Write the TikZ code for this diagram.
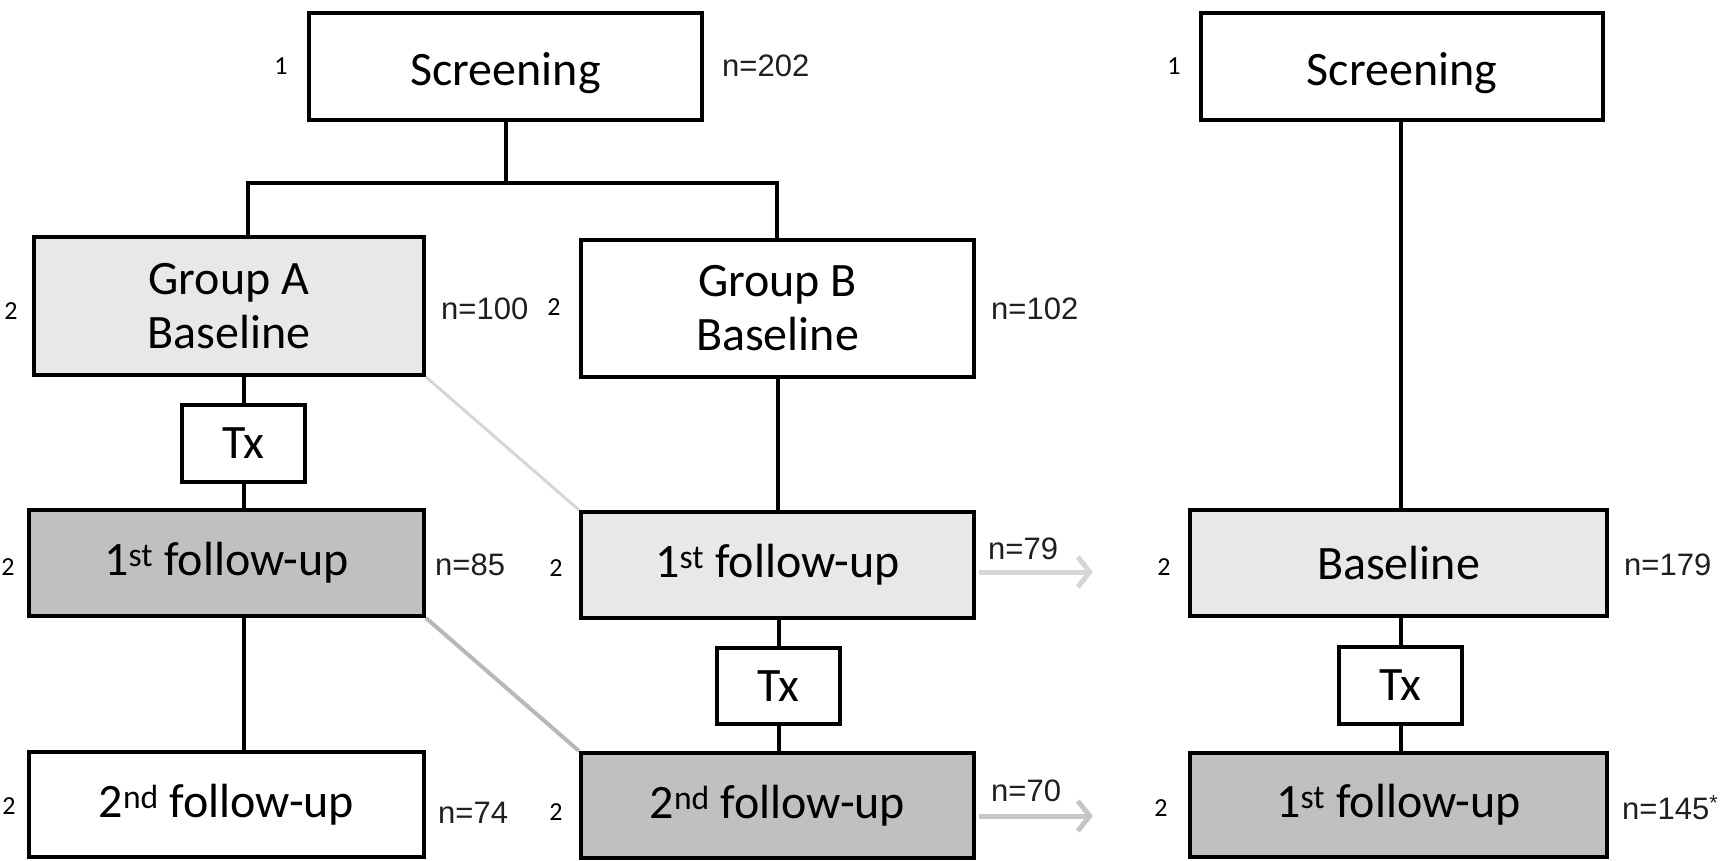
\documentclass[tikz,border=0pt]{standalone}
\usepackage{fontspec}
\setmainfont{Carlito}
\newfontfamily\arialf{Liberation Sans}
\usetikzlibrary{arrows.meta}
\definecolor{lightfill}{HTML}{E8E8E8}
\definecolor{darkfill}{HTML}{C0C0C0}
\definecolor{diagl}{HTML}{D6D6D6}
\definecolor{diagm}{HTML}{B8B8B8}
\definecolor{arrl}{HTML}{D6D6D6}
\definecolor{arrm}{HTML}{C6C6C6}
\newcommand\boxnode[7]{\node[box, fill=#6, minimum width={#4-#2}, minimum height={#5-#3}] (#1) at ({(#2+#4)/2},{(#3+#5)/2}) {#7};}
\begin{document}
\begin{tikzpicture}[x=1pt,y=-1pt,
  box/.style={draw=black, line width=4pt, inner sep=0pt, font=\fontsize{48}{54}\selectfont, align=center},
  lvl/.style={font=\fontsize{26}{28}\selectfont, inner sep=0pt},
  cnt/.style={font=\arialf\fontsize{31}{34}\selectfont, inner sep=0pt, anchor=west, text=black!88},
  conn/.style={line width=4pt, line join=miter},
  garrow/.style={line width=5pt, shorten <=3pt, -{Straight Barb[length=12pt,width=30pt]}}]
\useasboundingbox (0,0) rectangle (1728,860);

% boxes
\boxnode{scrA}{309}{13}{702}{120}{white}{\raisebox{-7pt}[\height][\depth]{Screening}}
\boxnode{scrC}{1201}{13}{1603}{120}{white}{\raisebox{-7pt}[\height][\depth]{Screening}}
\boxnode{grpA}{34}{237}{424}{375}{lightfill}{Group A\\Baseline}
\boxnode{grpB}{581}{240}{974}{377}{white}{Group B\\Baseline}
\boxnode{txA}{182}{405}{305}{482}{white}{Tx}
\boxnode{fuAa}{29}{510}{424}{616}{darkfill}{1\textsuperscript{st} follow-up}
\boxnode{fuBa}{581}{512}{974}{618}{lightfill}{1\textsuperscript{st} follow-up}
\boxnode{baseC}{1190}{510}{1607}{616}{lightfill}{Baseline}
\boxnode{txB}{717}{648}{840}{724}{white}{Tx}
\boxnode{txC}{1339}{647}{1462}{724}{white}{Tx}
\boxnode{fuAb}{29}{752}{424}{857}{white}{2\textsuperscript{nd} follow-up}
\boxnode{fuBb}{581}{753}{974}{858}{darkfill}{2\textsuperscript{nd} follow-up}
\boxnode{fuCa}{1190}{753}{1607}{857}{darkfill}{1\textsuperscript{st} follow-up}

% bracket
\coordinate (brL) at (248,183);
\coordinate (brR) at (777,183);
\draw[conn] (scrA.south) -- (scrA.south |- brL);
\draw[conn] (grpA.north -| brL) -- (brL) -- (brR) -- (grpB.north -| brR);

% column A
\draw[conn] (grpA.south -| txA.north) -- (txA.north);
\draw[conn] (txA.south) -- (fuAa.north -| txA.south);
\draw[conn] (fuAa.south -| txA.south) -- (fuAb.north -| txA.south);

% column B
\draw[conn] (grpB.south) -- (fuBa.north -| grpB.south);
\draw[conn] (fuBa.south -| txB.north) -- (txB.north);
\draw[conn] (txB.south) -- (fuBb.north -| txB.south);

% column C
\draw[conn] (scrC.south -| txC.north) -- (baseC.north -| txC.north);
\draw[conn] (baseC.south -| txC.north) -- (txC.north);
\draw[conn] (txC.south) -- (fuCa.north -| txC.south);

% grey diagonals
\draw[line width=3pt, diagl] (grpA.south east) -- (fuBa.north west);
\draw[line width=4pt, diagm] (fuAa.south east) -- (fuBb.north west);

% grey arrows
\coordinate (aOne) at (1093,572);
\coordinate (aTwo) at (1093,816);
\draw[garrow, arrl] (fuBa.east |- aOne) -- (aOne);
\draw[garrow, arrm] (fuBb.east |- aTwo) -- (aTwo);

% level labels
\node[lvl] (l1) at (281,66) {1};
\node[lvl] (l2) at (1174,66) {1};
\node[lvl] (l3) at (11,311) {2};
\node[lvl] (l4) at (554,307) {2};
\node[lvl] (l5) at (8,567) {2};
\node[lvl] (l6) at (556,568) {2};
\node[lvl] (l7) at (1164,567) {2};
\node[lvl] (l8) at (9,806) {2};
\node[lvl] (l9) at (556,812) {2};
\node[lvl] (l10) at (1161,808) {2};

% counts
\node[cnt] (n1) at (722,66) {n=202};
\node[cnt] (n2) at (441,309) {n=100};
\node[cnt] (n3) at (991,309) {n=102};
\node[cnt] (n4) at (435,565) {n=85};
\node[cnt] (n5) at (988,549) {n=79};
\node[cnt] (n6) at (1624,565) {n=179};
\node[cnt] (n7) at (438,813) {n=74};
\node[cnt] (n8) at (991,791) {n=70};
\node[cnt] (n9) at (1622,808) {n=145\textsuperscript{*}};
\end{tikzpicture}
\end{document}
